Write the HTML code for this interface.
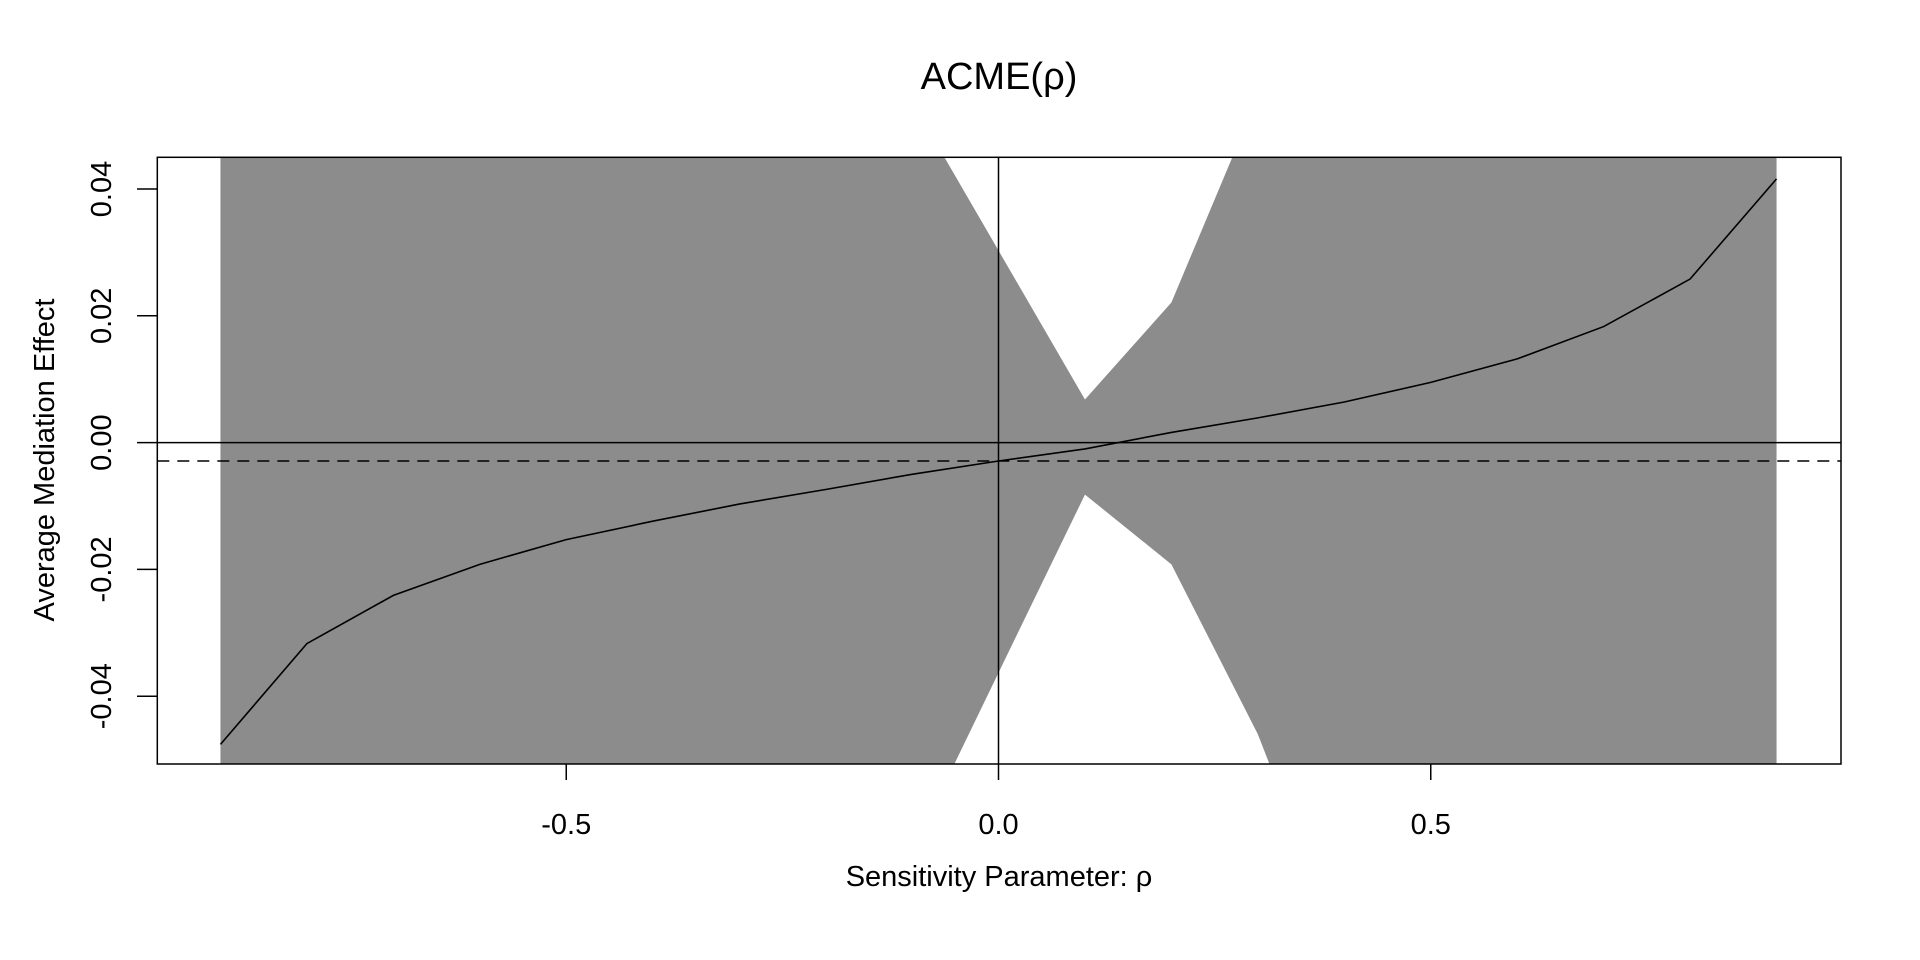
<!DOCTYPE html>
<html><head><meta charset="utf-8"><style>
html,body{margin:0;padding:0;background:#fff;width:1920px;height:960px;overflow:hidden;}
svg{display:block;font-family:"Liberation Sans",Arial,sans-serif;}
</style></head><body>
<svg id="chart" width="1920" height="960" viewBox="0 0 1920 960" xmlns="http://www.w3.org/2000/svg">
<defs><clipPath id="plotclip"><rect x="157.3" y="157.3" width="1683.7" height="606.7"/></clipPath></defs>
<g id="bands" clip-path="url(#plotclip)"></g>
<g id="lines" clip-path="url(#plotclip)"></g>
<rect x="157.3" y="157.3" width="1683.7" height="606.7" fill="none" stroke="#000" stroke-width="1.5"/>
<g id="axes"></g>
<text x="999" y="89" font-size="38" text-anchor="middle">ACME(ρ)</text>
<text x="999" y="886" font-size="29" text-anchor="middle">Sensitivity Parameter: ρ</text>
<text transform="translate(54,460) rotate(-90)" font-size="29" text-anchor="middle">Average Mediation Effect</text>
</svg>
<script>
const rho = [-0.9,-0.8,-0.7,-0.6,-0.5,-0.4,-0.3,-0.2,-0.1,0,0.1,0.2,0.3,0.4,0.5,0.6,0.7,0.8,0.9];
const acme = [-0.0476,-0.0317,-0.0241,-0.0192,-0.0153,-0.0124,-0.0097,-0.0074,-0.0050,-0.0029,-0.0010,0.0016,0.0039,0.0064,0.0095,0.0132,0.0183,0.0258,0.0416];
const upper = [0.5,0.3,0.2,0.15,0.12,0.1,0.085,0.07,0.0538,0.0303,0.0068,0.0221,0.0546,0.08,0.1,0.12,0.15,0.2,0.3];
const lower = [-0.5,-0.3,-0.2,-0.15,-0.12,-0.1,-0.09,-0.08,-0.0645,-0.0363,-0.0082,-0.0192,-0.046,-0.081,-0.1,-0.12,-0.15,-0.2,-0.3];
const xTicks = [-0.5,0,0.5];
const xTickLabels = ["-0.5","0.0","0.5"];
const yTicks = [-0.04,-0.02,0,0.02,0.04];
const yTickLabels = ["-0.04","-0.02","0.00","0.02","0.04"];
const refLine = -0.0029;

const NS="http://www.w3.org/2000/svg";
function X(v){return 998.5+v*864.5;}
function Y(v){return 442.6-v*6340;}
function mk(tag,attrs,parent){const e=document.createElementNS(NS,tag);for(const k in attrs)e.setAttribute(k,attrs[k]);parent.appendChild(e);return e;}
const bands=document.getElementById('bands'),lines=document.getElementById('lines'),axes=document.getElementById('axes');
let pts=[];
rho.forEach((r,i)=>pts.push(X(r)+","+Y(upper[i])));
for(let i=rho.length-1;i>=0;i--)pts.push(X(rho[i])+","+Y(lower[i]));
const poly=mk('polygon',{points:pts.join(' '),fill:'#8c8c8c',stroke:'none'},bands);


const h0=mk('line',{x1:157.3,x2:1841,y1:Y(0),y2:Y(0),stroke:'#000','stroke-width':1.5},lines);


const v0=mk('line',{x1:X(0),x2:X(0),y1:157.3,y2:764,stroke:'#000','stroke-width':1.5},lines);


const dl=mk('line',{x1:157.3,x2:1841,y1:Y(refLine),y2:Y(refLine),stroke:'#000','stroke-width':1.5,'stroke-dasharray':'12,8'},lines);


const pl=mk('polyline',{points:rho.map((r,i)=>X(r)+","+Y(acme[i])).join(' '),fill:'none',stroke:'#000','stroke-width':1.6},lines);


xTicks.forEach((t,i)=>{
  const l=mk('line',{x1:X(t),x2:X(t),y1:764,y2:780,stroke:'#000','stroke-width':1.5},axes);
  
  
  const tx=mk('text',{x:X(t),y:834,'font-size':29,'text-anchor':'middle'},axes);
  tx.textContent=xTickLabels[i];
  
  
});
yTicks.forEach((t,i)=>{
  const l=mk('line',{x1:137,x2:157.3,y1:Y(t),y2:Y(t),stroke:'#000','stroke-width':1.5},axes);
  
  
  const tx=mk('text',{transform:`translate(111,${Y(t)}) rotate(-90)`,'font-size':29,'text-anchor':'middle'},axes);
  tx.textContent=yTickLabels[i];
  
  
});
</script>
</body></html>
